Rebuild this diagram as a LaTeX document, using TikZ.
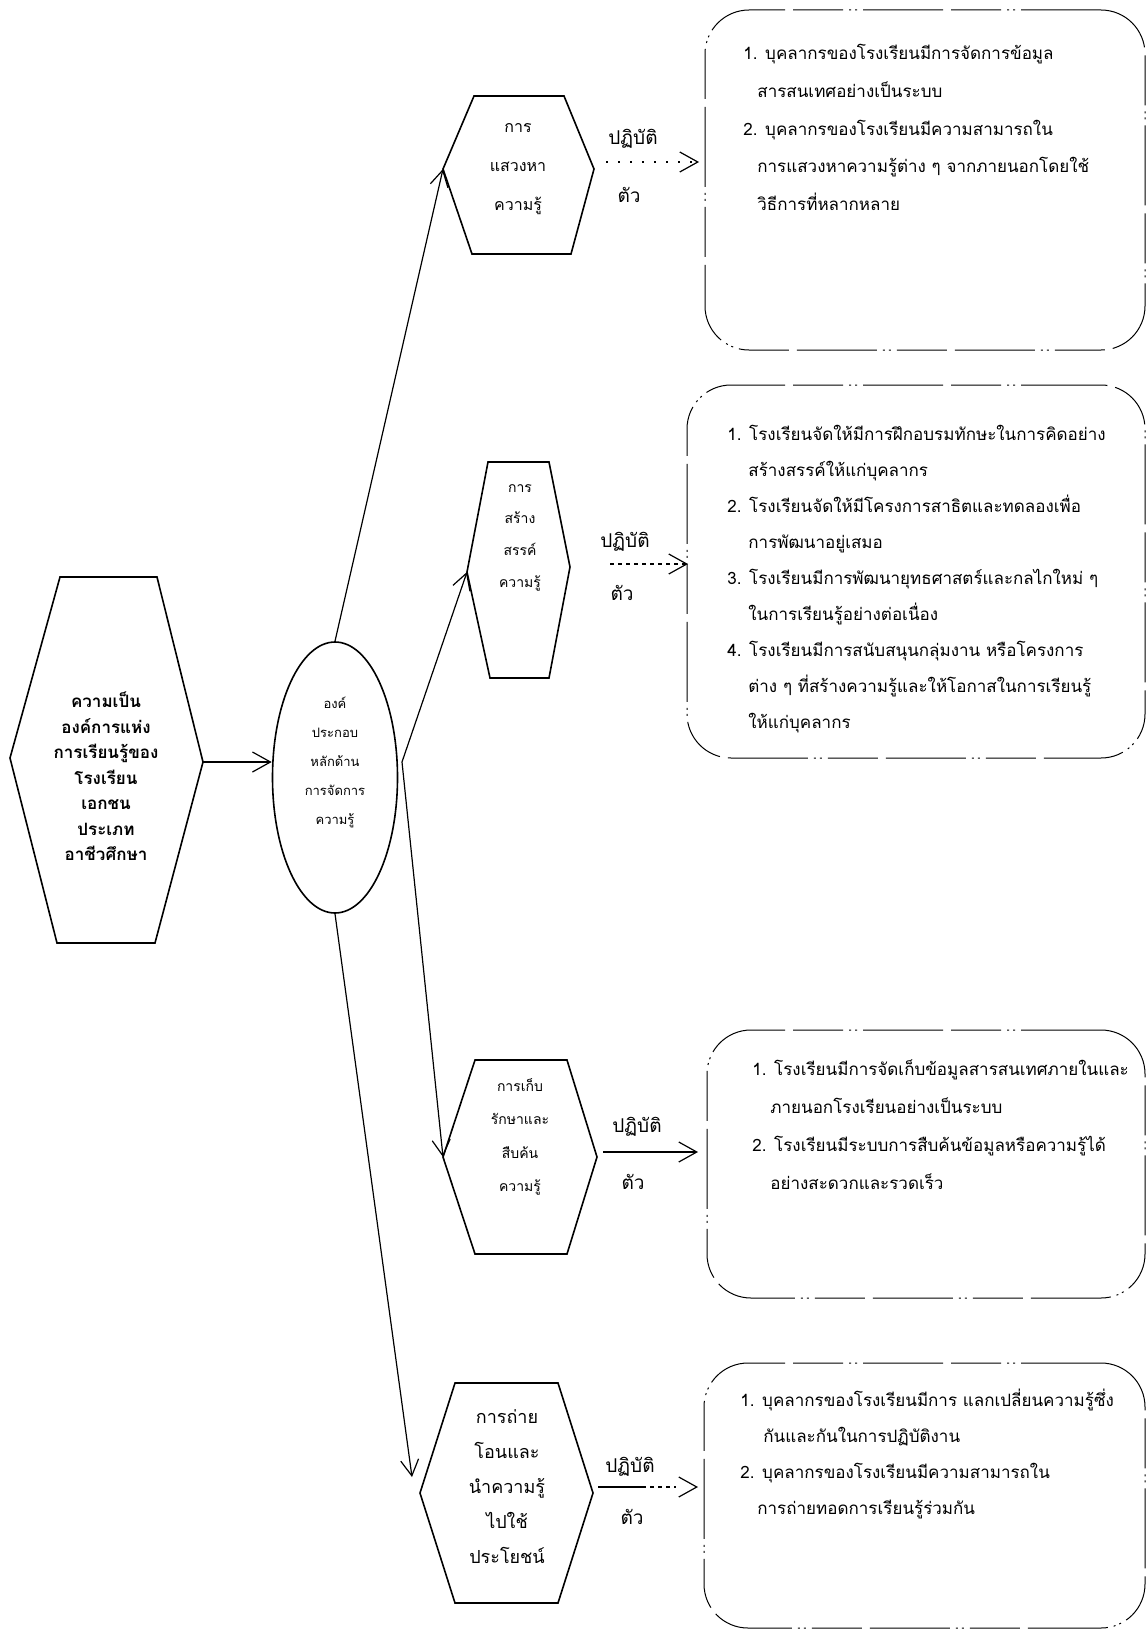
\documentclass[tikz,border=0pt]{standalone}
\usepackage{fontspec}
\newfontfamily\thai[Script=Thai]{Loma}
\usetikzlibrary{arrows.meta,shapes.geometric}
\begin{document}
\begin{tikzpicture}[x=0.5pt,y=-0.5pt,
  hexline/.style={line width=0.8pt, line join=miter},
  link/.style={line width=0.6pt, -{Straight Barb[length=8pt,width=9pt,line width=0.6pt]}},
  sidelink/.style={line width=0.6pt, -{Straight Barb[length=9pt,width=10pt,line width=0.6pt]}},
  faint/.style={dash pattern=on 1pt off 5pt},
  dotted2/.style={dash pattern=on 2pt off 2pt},
  mixed/.style={dash pattern=on 24pt off 2pt on 2pt off 2pt on 2pt off 2pt on 2pt off 2pt on 1pt off 20pt},
  boxline/.style={draw, line width=0.5pt, rounded corners=22pt, inner sep=0pt,
     dash pattern=on 40pt off 3pt on 1pt off 2pt on 1pt off 3pt on 25pt off 4pt},
  hextext/.style={align=center, inner sep=0pt},
  boxtext/.style={align=left, anchor=west, inner sep=0pt, font=\thai\fontsize{8.5}{18}\selectfont},
  lbl/.style={inner sep=0pt, font=\thai\fontsize{9.5}{11}\selectfont}]
\useasboundingbox (0,0) rectangle (1146,1632);

% ---------------- left hexagon
\draw[hexline] (60,577) -- (157,577) -- (203,762) coordinate (m0r) -- (155,943) -- (57,943) -- (10,758) -- cycle;
\node[hextext, font=\thai\bfseries\fontsize{8.5}{12.75}\selectfont] (main) at (106,776.5)
  {ความเป็น\\องค์การแห่ง\\การเรียนรู้ของ\\โรงเรียน\\เอกชน\\ประเภท\\อาชีวศึกษา};

% ---------------- ellipse
\node[draw, ellipse, line width=0.8pt, minimum width=62.5pt, minimum height=135.5pt, inner sep=0pt] (ell) at (335,777.5) {};
\node[hextext, font=\thai\fontsize{6.5}{14.4}\selectfont] (elltext) at (335,762.5)
  {องค์\\ประกอบ\\หลักด้าน\\การจัดการ\\ความรู้};
\coordinate (j) at (402,762);

% ---------------- hexagon 1
\draw[hexline] (474,96) -- (564,96) -- (594,169) coordinate (h1r) -- (571,254) -- (472,254) -- (443,169) coordinate (h1l) -- cycle;
\node[hextext, font=\thai\fontsize{8}{19.5}\selectfont] (t1) at (518,169) {การ\\แสวงหา\\ความรู้};
\node[lbl] (p1) at (633,139) {ปฏิบัติ};
\node[lbl] (c1) at (629,195) {ตัว};

% ---------------- hexagon 2
\draw[hexline] (488,462) -- (549,462) -- (570,567) coordinate (h2r) -- (549,678) -- (490,678) -- (467,572) coordinate (h2l) -- cycle;
\node[hextext, font=\thai\fontsize{7}{15.8}\selectfont] (t2) at (520,537.5) {การ\\สร้าง\\สรรค์\\ความรู้};
\node[lbl] (p2) at (625,542) {ปฏิบัติ};
\node[lbl] (c2) at (622,593) {ตัว};

% ---------------- hexagon 3
\draw[hexline] (475,1060) -- (567,1060) -- (597,1157) coordinate (h3r) -- (567,1254) -- (475,1254) -- (443,1157) coordinate (h3l) -- cycle;
\node[hextext, font=\thai\fontsize{7}{16.7}\selectfont] (t3) at (520,1137) {การเก็บ\\รักษาและ\\สืบค้น\\ความรู้};
\node[lbl] (p3) at (637,1127) {ปฏิบัติ};
\node[lbl] (c3) at (633,1182) {ตัว};

% ---------------- hexagon 4
\draw[hexline] (455,1383) -- (558,1383) -- (593,1493) coordinate (h4r) -- (558,1603) -- (455,1603) -- (420,1493) coordinate (h4l) -- cycle;
\node[hextext, font=\thai\fontsize{9}{17.5}\selectfont] (t4) at (507,1487) {การถ่าย\\โอนและ\\นำความรู้\\ไปใช้\\ประโยชน์};
\node[lbl] (p4) at (630,1467) {ปฏิบัติ};
\node[lbl] (c4) at (632,1517) {ตัว};
\coordinate (h4a) at (412,1477);

% ---------------- boxes
\node[boxline, minimum width=220pt, minimum height=170pt] (b1) at (925,180) {};
\node[boxline, minimum width=229pt, minimum height=186.5pt] (b2) at (916,571.5) {};
\node[boxline, minimum width=219pt, minimum height=134pt] (b3) at (926,1164) {};
\node[boxline, minimum width=220.5pt, minimum height=132.5pt] (b4) at (924.5,1495.5) {};

\node[boxtext, font=\thai\fontsize{8.5}{18.9}\selectfont] (bt1) at (743,127.5)
  {1. บุคลากรของโรงเรียนมีการจัดการข้อมูล\\
   \hspace*{7pt}สารสนเทศอย่างเป็นระบบ\\
   2. บุคลากรของโรงเรียนมีความสามารถใน\\
   \hspace*{7pt}การแสวงหาความรู้ต่าง ๆ จากภายนอกโดยใช้\\
   \hspace*{7pt}วิธีการที่หลากหลาย};
\node[boxtext, font=\thai\fontsize{8.5}{18}\selectfont] (bt2) at (727,579)
  {1. โรงเรียนจัดให้มีการฝึกอบรมทักษะในการคิดอย่าง\\
   \hspace*{10.5pt}สร้างสรรค์ให้แก่บุคลากร\\
   2. โรงเรียนจัดให้มีโครงการสาธิตและทดลองเพื่อ\\
   \hspace*{10.5pt}การพัฒนาอยู่เสมอ\\
   3. โรงเรียนมีการพัฒนายุทธศาสตร์และกลไกใหม่ ๆ\\
   \hspace*{10.5pt}ในการเรียนรู้อย่างต่อเนื่อง\\
   4. โรงเรียนมีการสนับสนุนกลุ่มงาน หรือโครงการ\\
   \hspace*{10.5pt}ต่าง ๆ ที่สร้างความรู้และให้โอกาสในการเรียนรู้\\
   \hspace*{10.5pt}ให้แก่บุคลากร};
\node[boxtext, font=\thai\fontsize{8.5}{19}\selectfont] (bt3) at (752,1125)
  {1. โรงเรียนมีการจัดเก็บข้อมูลสารสนเทศภายในและ\\
   \hspace*{9pt}ภายนอกโรงเรียนอย่างเป็นระบบ\\
   2. โรงเรียนมีระบบการสืบค้นข้อมูลหรือความรู้ได้\\
   \hspace*{9pt}อย่างสะดวกและรวดเร็ว};
\node[boxtext, font=\thai\fontsize{8.5}{18}\selectfont] (bt4) at (740,1454)
  {1. บุคลากรของโรงเรียนมีการ แลกเปลี่ยนความรู้ซึ่ง\\
   \hspace*{11.5pt}กันและกันในการปฏิบัติงาน\\
   2. บุคลากรของโรงเรียนมีความสามารถใน\\
   \hspace*{8.5pt}การถ่ายทอดการเรียนรู้ร่วมกัน};

% ---------------- connectors
\draw[sidelink] (m0r) -- (m0r -| ell.west);
\draw[link] (ell.north) -- (h1l);
\draw[link] (j) -- (h2l);
\draw[link] (j) -- (h3l);
\draw[link] (ell.south) -- (h4a);

\coordinate (a1s) at (606,162); \coordinate (a1e) at (699,162);
\coordinate (a2s) at (610,564); \coordinate (a2e) at (688,564);
\coordinate (a3s) at (603,1152); \coordinate (a3e) at (698,1152);
\coordinate (a4s) at (598,1487); \coordinate (a4e) at (698,1487);
\draw[sidelink, faint] (a1s) -- (a1e);
\draw[sidelink, dotted2] (a2s) -- (a2e);
\draw[sidelink] (a3s) -- (a3e);
\draw[sidelink, mixed] (a4s) -- (a4e);
\end{tikzpicture}
\end{document}
